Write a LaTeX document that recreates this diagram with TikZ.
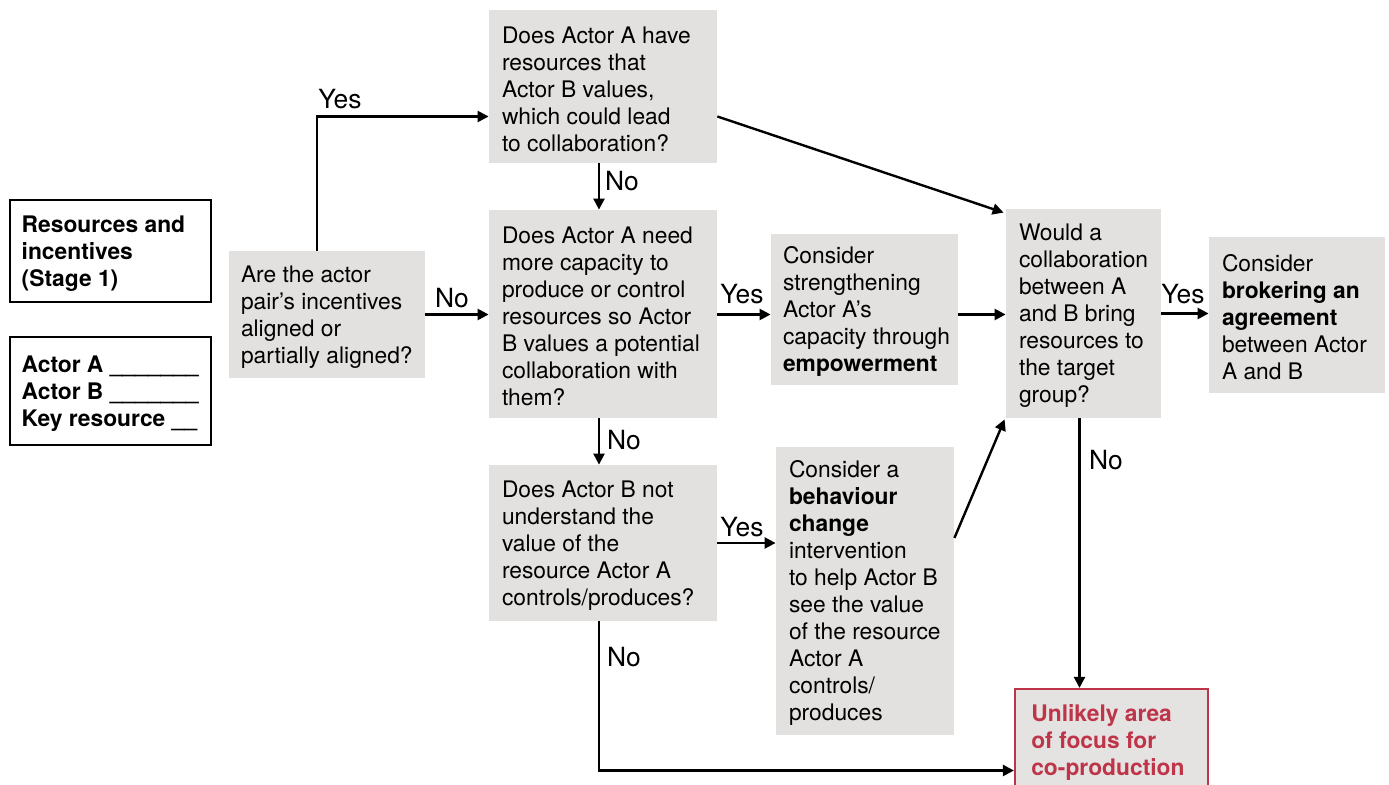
\documentclass[tikz,border=0pt]{standalone}
\usepackage{fontspec}
\setmainfont{TeX Gyre Heros}
\usetikzlibrary{arrows.meta,calc}
\definecolor{boxgray}{RGB}{226,225,223}
\definecolor{unlgray}{RGB}{229,227,226}
\definecolor{warnred}{RGB}{190,52,72}
\begin{document}
\begin{tikzpicture}[x=0.5pt,y=-0.5pt,
  every node/.style={font=\fontsize{11.4}{13.5}\selectfont},
  gbox/.style={fill=boxgray, draw=none, inner sep=0pt},
  wbox/.style={fill=white, draw=black, line width=0.7pt, inner sep=0pt},
  rbox/.style={fill=unlgray, draw=warnred, line width=1.1pt, inner sep=0pt},
  txt/.style={anchor=west, align=left, inner xsep=0pt, inner ysep=0pt, yshift=-1.2pt},
  lbl/.style={inner sep=0pt, font=\fontsize{13.2}{15}\selectfont},
  arr/.style={line width=1.2pt, -{Triangle[length=5.5pt,width=5.5pt]}}
]
\useasboundingbox (0,0) rectangle (1389,785);
\clip (0,0) rectangle (1389,785);

% side panels
\node[wbox, minimum width=100.5pt, minimum height=51pt] (res) at (110.5,251) {};
\node[txt] (rest) at ([xshift=6pt]res.west) {\bfseries Resources and\\\bfseries incentives\\\bfseries (Stage 1)};
\node[wbox, minimum width=100.5pt, minimum height=54pt] (act) at (110.5,391) {};
\node[txt] (actt) at ([xshift=6pt]act.west) {\bfseries Actor A \_\_\_\_\_\_\_\\\bfseries Actor B \_\_\_\_\_\_\_\\\bfseries Key resource \_\_};

% decision and action boxes
\node[gbox, minimum width=98pt, minimum height=63.5pt] (q1) at (327,314.5) {};
\node[txt] (q1t) at ([xshift=6pt]q1.west) {Are the actor\\pair’s incentives\\aligned or\\partially aligned?};

\node[gbox, minimum width=114pt, minimum height=76.5pt] (q2) at (603,86.5) {};
\node[txt] (q2t) at ([xshift=6.5pt]q2.west) {Does Actor A have\\resources that\\Actor B values,\\which could lead\\to collaboration?};

\node[gbox, minimum width=114pt, minimum height=104pt] (q3) at (603,314) {};
\node[txt] (q3t) at ([xshift=6.5pt]q3.west) {Does Actor A need\\more capacity to\\produce or control\\resources so Actor\\B values a potential\\collaboration with\\them?};

\node[gbox, minimum width=93.5pt, minimum height=75.5pt] (emp) at (864.5,309.5) {};
\node[txt] (empt) at ([xshift=6pt]emp.west) {Consider\\strengthening\\Actor A’s\\capacity through\\\textbf{empowerment}};

\node[gbox, minimum width=77.5pt, minimum height=104.5pt] (would) at (1083.5,313.5) {};
\node[txt] (wouldt) at ([xshift=6.5pt]would.west) {Would a\\collaboration\\between A\\and B bring\\resources to\\the target\\group?};

\node[gbox, minimum width=88pt, minimum height=78pt] (brok) at (1297,315) {};
\node[txt] (brokt) at ([xshift=6.5pt]brok.west) {Consider\\\textbf{brokering an}\\\textbf{agreement}\\between Actor\\A and B};

\node[gbox, minimum width=114pt, minimum height=78pt] (q4) at (603,543) {};
\node[txt] (q4t) at ([xshift=6.5pt]q4.west) {Does Actor B not\\understand the\\value of the\\resource Actor A\\controls/produces?};

\node[gbox, minimum width=89pt, minimum height=144pt] (beh) at (865,591) {};
\node[txt] (beht) at ([xshift=6.5pt]beh.west) {Consider a\\\textbf{behaviour}\\\textbf{change}\\intervention\\to help Actor B\\see the value\\of the resource\\Actor A\\controls/\\produces};

\node[rbox, minimum width=96.5pt, minimum height=51.5pt] (unl) at (1111.5,740.5) {};
\node[txt, text=warnred] (unlt) at ([xshift=8.5pt]unl.west) {\bfseries Unlikely area\\\bfseries of focus for\\\bfseries co-production};

% connectors
\coordinate (q1up) at ($(q1.north west)!0.45!(q1.north east)$);
\draw[arr] (q1up) |- ([yshift=-15pt]q2.west);
\draw[arr] (q1.east) -- (q1.east -| q3.west);
\draw[arr] ([xshift=-2pt]q2.south) -- ([xshift=-2pt]q2.south |- q3.north);
\draw[arr] ([yshift=-15pt]q2.east) -- ([shift={(-1pt,-2pt)}]would.north west);
\draw[arr] (q3.east |- q1.east) -- (q1.east -| emp.west);
\draw[arr] (q1.east -| emp.east) -- (q1.east -| would.west);
\draw[arr] (would.east) -- (would.east -| brok.west);
\draw[arr] ([xshift=-2pt]q3.south) -- ([xshift=-2pt]q3.south |- q4.north);
\draw[arr] (q4.east) -- (q4.east -| beh.west);
\draw[arr] ([yshift=26.5pt]beh.east) -- ([shift={(-0.5pt,-0.5pt)}]would.south west);
\draw[arr] ([xshift=-2pt]would.south) -- ([xshift=-2pt]would.south |- unl.north);
\draw[arr] ([xshift=-2pt]q4.south) |- ([yshift=-15pt]unl.west);

% branch labels
\node[lbl] (l1) at (340,99) {Yes};
\node[lbl] (l2) at (452,298) {No};
\node[lbl] (l3) at (622,181) {No};
\node[lbl] (l4) at (742,294) {Yes};
\node[lbl] (l5) at (1183,294) {Yes};
\node[lbl] (l6) at (624,440) {No};
\node[lbl] (l7) at (742,527) {Yes};
\node[lbl] (l8) at (1106,460) {No};
\node[lbl] (l9) at (624,657) {No};
\end{tikzpicture}
\end{document}
